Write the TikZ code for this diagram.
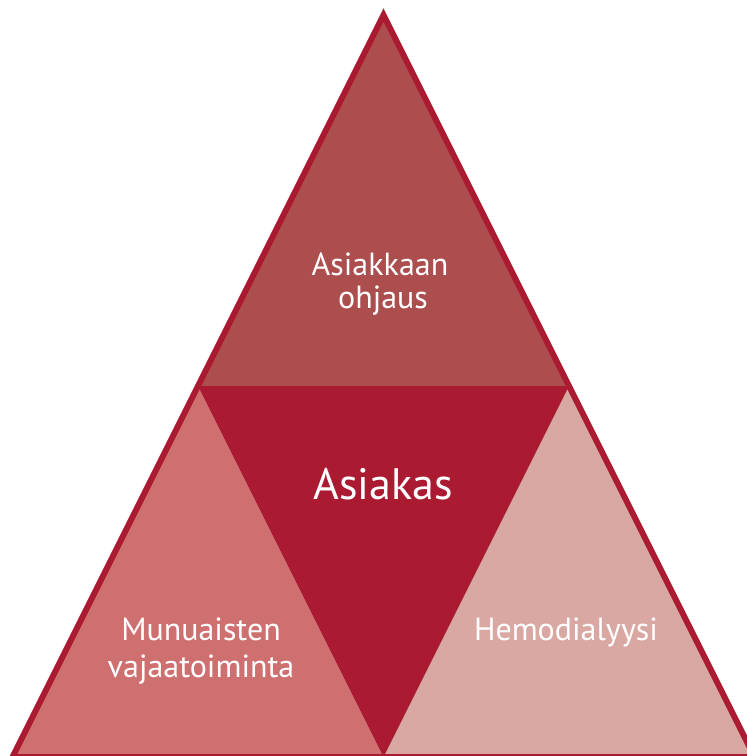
\documentclass[tikz,border=0pt]{standalone}
\usepackage{fontspec}
\setmainfont{PT Sans}
\definecolor{crimson}{RGB}{170,27,50}
\definecolor{topred}{RGB}{173,78,78}
\definecolor{leftred}{RGB}{207,112,112}
\definecolor{rightpink}{RGB}{218,168,163}
\tikzset{
  part/.style={draw=none},
  outline/.style={draw=crimson, line width=6pt, line join=miter},
  lbl/.style={text=white, inner sep=0pt, anchor=base, font=\fontsize{32}{36}\selectfont},
  biglbl/.style={text=white, inner sep=0pt, anchor=base, font=\fontsize{44}{50}\selectfont}
}
\begin{document}
\begin{tikzpicture}[x=1pt,y=-1pt]
\useasboundingbox (0,0) rectangle (747,756);
\clip (0,0) rectangle (747,756);
\coordinate (A) at (383.5,15);
\coordinate (L) at (12.5,757);
\coordinate (R) at (754.5,757);
\coordinate (ML) at (198,386);
\coordinate (MR) at (569,386);
\coordinate (MB) at (383.5,757);
\fill[part, topred] (A) -- (ML) -- (MR) -- cycle;
\fill[part, leftred] (ML) -- (L) -- (MB) -- cycle;
\fill[part, rightpink] (MR) -- (MB) -- (R) -- cycle;
\fill[part, crimson] (ML) -- (MR) -- (MB) -- cycle;
\draw[outline] (A) -- (L) -- (R) -- cycle;
\node[lbl] (t1) at (380,275) {Asiakkaan};
\node[lbl] (t2) at (383,308) {ohjaus};
\node[biglbl] (c) at (383,499) {Asiakas};
\node[lbl] (l1) at (201,640) {Munuaisten};
\node[lbl] (l2) at (201,677) {vajaatoiminta};
\node[lbl] (r1) at (566,640) {Hemodialyysi};
\end{tikzpicture}
\end{document}
